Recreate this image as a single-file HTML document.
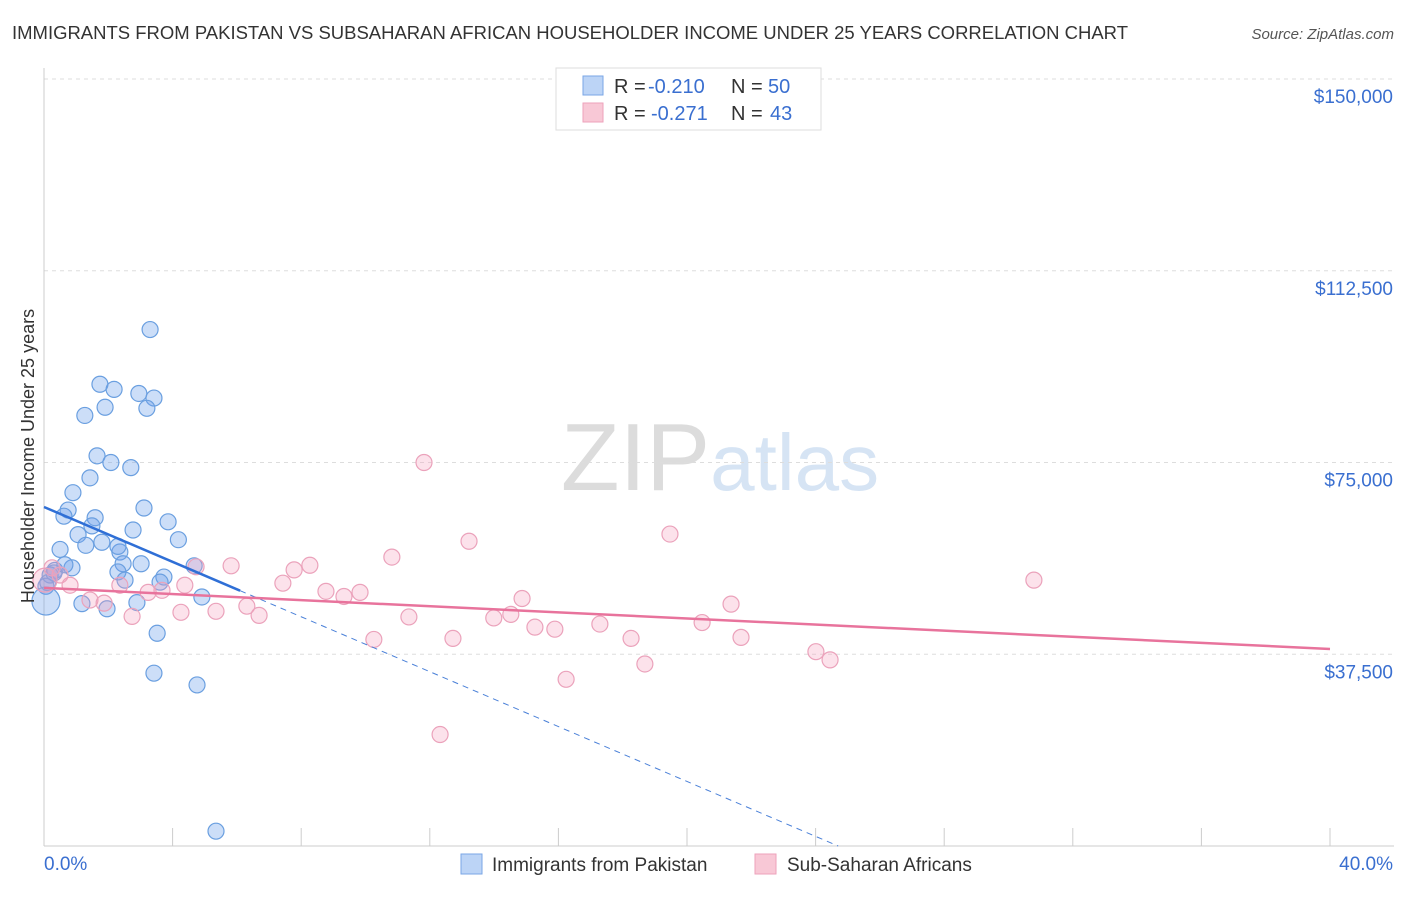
<!DOCTYPE html>
<html><head><meta charset="utf-8"><style>
body{margin:0;background:#fff;font-family:"Liberation Sans",sans-serif}
svg text{font-family:"Liberation Sans",sans-serif}
</style></head><body>
<svg id="chart" width="1406" height="892" viewBox="0 0 1406 892">
<text x="12" y="39" font-size="18" fill="#333" textLength="1116" lengthAdjust="spacingAndGlyphs">IMMIGRANTS FROM PAKISTAN VS SUBSAHARAN AFRICAN HOUSEHOLDER INCOME UNDER 25 YEARS CORRELATION CHART</text>
<text x="1394" y="39" font-size="15" fill="#555" font-style="italic" text-anchor="end">Source: ZipAtlas.com</text>
<text x="720" y="490" font-size="96" fill="#e4e4e4" text-anchor="middle" font-family="Liberation Serif"><tspan fill="#dcdcdc">ZIP</tspan><tspan fill="#d6e4f4" font-family="Liberation Sans" font-size="80">atlas</tspan></text>
<g id="grid"></g><g id="axes"></g><g id="marks"></g>
<g>
<rect x="556" y="68" width="265" height="62" fill="#fff" stroke="#ddd"/>
<rect x="583" y="76" width="20" height="19" fill="#bcd4f6" stroke="#7aa6e6"/>
<rect x="583" y="103" width="20" height="19" fill="#f8c8d6" stroke="#eea2bb"/>
<g font-size="20">
<text x="614" y="93" fill="#333">R =</text><text x="648" y="93" fill="#3a6fd0">-0.210</text>
<text x="731" y="93" fill="#333">N =</text><text x="768" y="93" fill="#3a6fd0">50</text></g>
<g font-size="20">
<text x="614" y="120" fill="#333">R =</text><text x="651" y="120" fill="#3a6fd0">-0.271</text>
<text x="731" y="120" fill="#333">N =</text><text x="770" y="120" fill="#3a6fd0">43</text></g>
</g>
<g>
<rect x="461" y="854" width="21" height="20" fill="#bcd4f6" stroke="#7aa6e6"/>
<text x="492" y="871" font-size="19" fill="#333">Immigrants from Pakistan</text>
<rect x="755" y="854" width="21" height="20" fill="#f8c8d6" stroke="#eea2bb"/>
<text x="787" y="871" font-size="19" fill="#333">Sub-Saharan Africans</text>
</g>
<text transform="translate(34,456) rotate(-90)" font-size="18" fill="#333" text-anchor="middle">Householder Income Under 25 years</text>
</svg>
<script>
const yTicks=[37500,75000,112500,150000];
const yTickLabels=["$37,500","$75,000","$112,500","$150,000"];
const xTicks=[0,4,8,12,16,20,24,28,32,36,40];
const pakX=[3.3,1.74,2.18,2.95,3.42,1.27,1.9,3.2,1.65,2.08,2.7,1.43,0.9,3.11,0.75,0.62,1.59,3.86,1.49,2.77,1.06,4.18,0.5,1.3,1.8,2.36,2.3,0.87,2.46,3.02,4.67,0.34,0.19,2.3,3.73,2.52,3.61,0.06,4.91,2.89,1.18,1.96,0.06,3.52,3.42,4.76,5.35,0.31,0.65,0.12];
const pakY=[101000,90300,89300,88500,87600,84200,85800,85600,76300,75000,74000,72000,69100,66100,65700,64500,64200,63400,62600,61800,60900,59900,58000,58800,59400,57500,58600,54400,55200,55200,54800,53900,53000,53600,52600,52000,51600,50800,48700,47600,47400,46400,47900,41600,33800,31500,2900,53400,55000,51500];
const ssaX=[11.82,19.47,13.22,10.82,8.27,5.82,7.78,4.73,7.43,8.77,9.33,9.83,3.67,4.38,2.36,0.5,0.25,0.03,0.81,1.43,1.87,3.24,2.74,4.26,5.35,6.31,6.69,11.35,13.99,14.87,14.52,15.27,15.89,17.29,10.26,12.72,18.26,21.68,21.37,20.47,18.69,24.01,24.45,16.24,12.32,30.79];
const ssaY=[75000,61000,59600,56500,54900,54800,54000,54600,51400,49800,48800,49600,50000,51000,51000,53000,54400,52000,51000,48100,47500,49600,44900,45700,45900,46900,45100,44800,44600,48400,45300,42800,42400,43400,40400,40600,40600,40800,47300,43700,35600,38000,36400,32600,21800,52000];
const pakTrend=[66300,-2684];
const ssaTrend=[50470,-298.5];
const X0=44,X1=1330,Y0=846,Y150=79;
const xs=v=>X0+(X1-X0)*v/40;
const ys=v=>Y0-(Y0-Y150)*v/150000;
const NS="http://www.w3.org/2000/svg";
function mk(t,a,p){const e=document.createElementNS(NS,t);for(const k in a)e.setAttribute(k,a[k]);p.appendChild(e);return e;}
const grid=document.getElementById('grid'),axes=document.getElementById('axes'),marks=document.getElementById('marks');
yTicks.forEach((v,i)=>{
 const l=mk('line',{x1:X0,x2:1394,y1:ys(v),y2:ys(v),stroke:'#ddd','stroke-dasharray':'4,4'},grid);
 
 
 const t=mk('text',{x:1393,y:ys(v)+24,'font-size':19,fill:'#3a6fd0','text-anchor':'end'},axes);
 t.textContent=yTickLabels[i];
 
 
});
const ya=mk('line',{x1:X0,x2:X0,y1:68,y2:Y0,stroke:'#ccc'},axes);


const xa=mk('line',{x1:X0,x2:1394,y1:Y0,y2:Y0,stroke:'#ccc'},axes);


xTicks.forEach(v=>{
 const t=mk('line',{x1:xs(v),x2:xs(v),y1:828,y2:Y0,stroke:'#ccc'},axes);
 
 
});
const xl0=mk('text',{x:44,y:870,'font-size':19,fill:'#3a6fd0'},axes);xl0.textContent='0.0%';


const xl1=mk('text',{x:1393,y:870,'font-size':19,fill:'#3a6fd0','text-anchor':'end'},axes);xl1.textContent='40.0%';


pakX.forEach((x,i)=>{
 const c=mk('circle',{cx:xs(x),cy:ys(pakY[i]),r:(x<0.1&&pakY[i]<48500)?14:8,fill:'rgba(110,160,235,0.35)',stroke:'#6a9fe0','stroke-width':1.2},marks);
 
 
});
ssaX.forEach((x,i)=>{
 const c=mk('circle',{cx:xs(x),cy:ys(ssaY[i]),r:(x<0.1)?12:8,fill:'rgba(245,160,190,0.3)',stroke:'#eba2bb','stroke-width':1.2},marks);
 
 
});
const [pa,pb]=pakTrend;
const xEnd=-pa/pb;
const pl=mk('line',{x1:xs(0),y1:ys(pa),x2:xs(6.1),y2:ys(pa+pb*6.1),stroke:'#2f6fd6','stroke-width':2.5},marks);


const pd=mk('line',{x1:xs(6.1),y1:ys(pa+pb*6.1),x2:xs(xEnd),y2:ys(0),stroke:'#4a80d8','stroke-width':1,'stroke-dasharray':'6,5'},marks);


const [sa,sb]=ssaTrend;
const sl=mk('line',{x1:xs(0),y1:ys(sa),x2:xs(40),y2:ys(sa+sb*40),stroke:'#e8739c','stroke-width':2.5},marks);


</script>
</body></html>
